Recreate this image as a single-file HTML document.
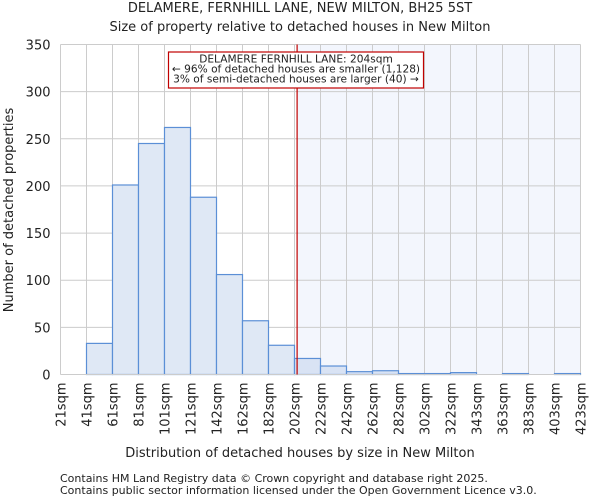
<!DOCTYPE html>
<html><head><meta charset="utf-8"><style>
body{margin:0;background:#fff;font-family:"DejaVu Sans","Liberation Sans",sans-serif}
svg text{font-family:"DejaVu Sans","Liberation Sans",sans-serif;fill:#222}
</style></head><body>
<svg id="c" width="600" height="500" xmlns="http://www.w3.org/2000/svg">
<text x="300" y="12" font-size="13" text-anchor="middle">DELAMERE, FERNHILL LANE, NEW MILTON, BH25 5ST</text>
<text x="300" y="31" font-size="13" text-anchor="middle">Size of property relative to detached houses in New Milton</text>
<g id="plot"></g>
<text x="300" y="457" font-size="13" text-anchor="middle">Distribution of detached houses by size in New Milton</text>
<text transform="translate(13,210) rotate(-90)" font-size="13" text-anchor="middle">Number of detached properties</text>
<text x="60" y="482" font-size="11">Contains HM Land Registry data © Crown copyright and database right 2025.</text>
<text x="60" y="494" font-size="11">Contains public sector information licensed under the Open Government Licence v3.0.</text>
</svg>
<script>
const categories=["21sqm","41sqm","61sqm","81sqm","101sqm","121sqm","142sqm","162sqm","182sqm","202sqm","222sqm","242sqm","262sqm","282sqm","302sqm","322sqm","343sqm","363sqm","383sqm","403sqm","423sqm"];
const counts=[0,33,201,245,262,188,106,57,31,17,9,3,4,1,1,2,0,1,0,1];
const yTicks=[0,50,100,150,200,250,300,350];
const markerIndex=9.1;
const NS="http://www.w3.org/2000/svg";
const g=document.getElementById('plot');
const x0=60.5,step=26,yb=374.5,yt=44.5,ymax=350;
const X=i=>x0+i*step;
const Y=v=>yb-(v/ymax)*(yb-yt);
function mk(t,a){const e=document.createElementNS(NS,t);for(const k in a)e.setAttribute(k,a[k]);g.appendChild(e);return e;}
const xr=X(categories.length-1);
let sh=mk('rect',{x:X(markerIndex),y:yt,width:xr-X(markerIndex),height:yb-yt,fill:'#f3f6fd'});


yTicks.forEach(v=>{
 let l=mk('line',{x1:x0,x2:xr,y1:Y(v),y2:Y(v),stroke:'#cccccc','stroke-width':1});
 
 
 let t=mk('text',{x:x0-10,y:Y(v)+5,'font-size':13,'text-anchor':'end'});t.textContent=v;
 
 
});
categories.forEach((c,i)=>{
 let l=mk('line',{x1:X(i),x2:X(i),y1:yt,y2:yb,stroke:'#cccccc','stroke-width':1});
 
 
 let t=mk('text',{transform:`translate(${X(i)+5},${yb+8}) rotate(-90)`,'font-size':13,'text-anchor':'end'});t.textContent=c;
 
 
});
counts.forEach((v,i)=>{
 if(v<=0)return;
 let r=mk('rect',{x:X(i),y:Y(v),width:step,height:yb-Y(v),fill:i>=9?'#d9e3f4':'#dfe8f5',stroke:'#5b8fd6','stroke-width':1.2});
 
 
});
let ax=mk('line',{x1:x0,x2:xr,y1:yb,y2:yb,stroke:'#cccccc','stroke-width':1});


let ml=mk('line',{x1:X(markerIndex),x2:X(markerIndex),y1:yt,y2:yb,stroke:'#c00000','stroke-width':1.2});


let bx=mk('rect',{x:168.5,y:52,width:255,height:36,fill:'#fff',stroke:'#c00000','stroke-width':1.2});


["DELAMERE FERNHILL LANE: 204sqm","← 96% of detached houses are smaller (1,128)","3% of semi-detached houses are larger (40) →"].forEach((s,k)=>{
 let t=mk('text',{x:296,y:62.5+k*10,'font-size':10.6,'text-anchor':'middle'});t.textContent=s;
 
 
});
</script>
</body></html>
